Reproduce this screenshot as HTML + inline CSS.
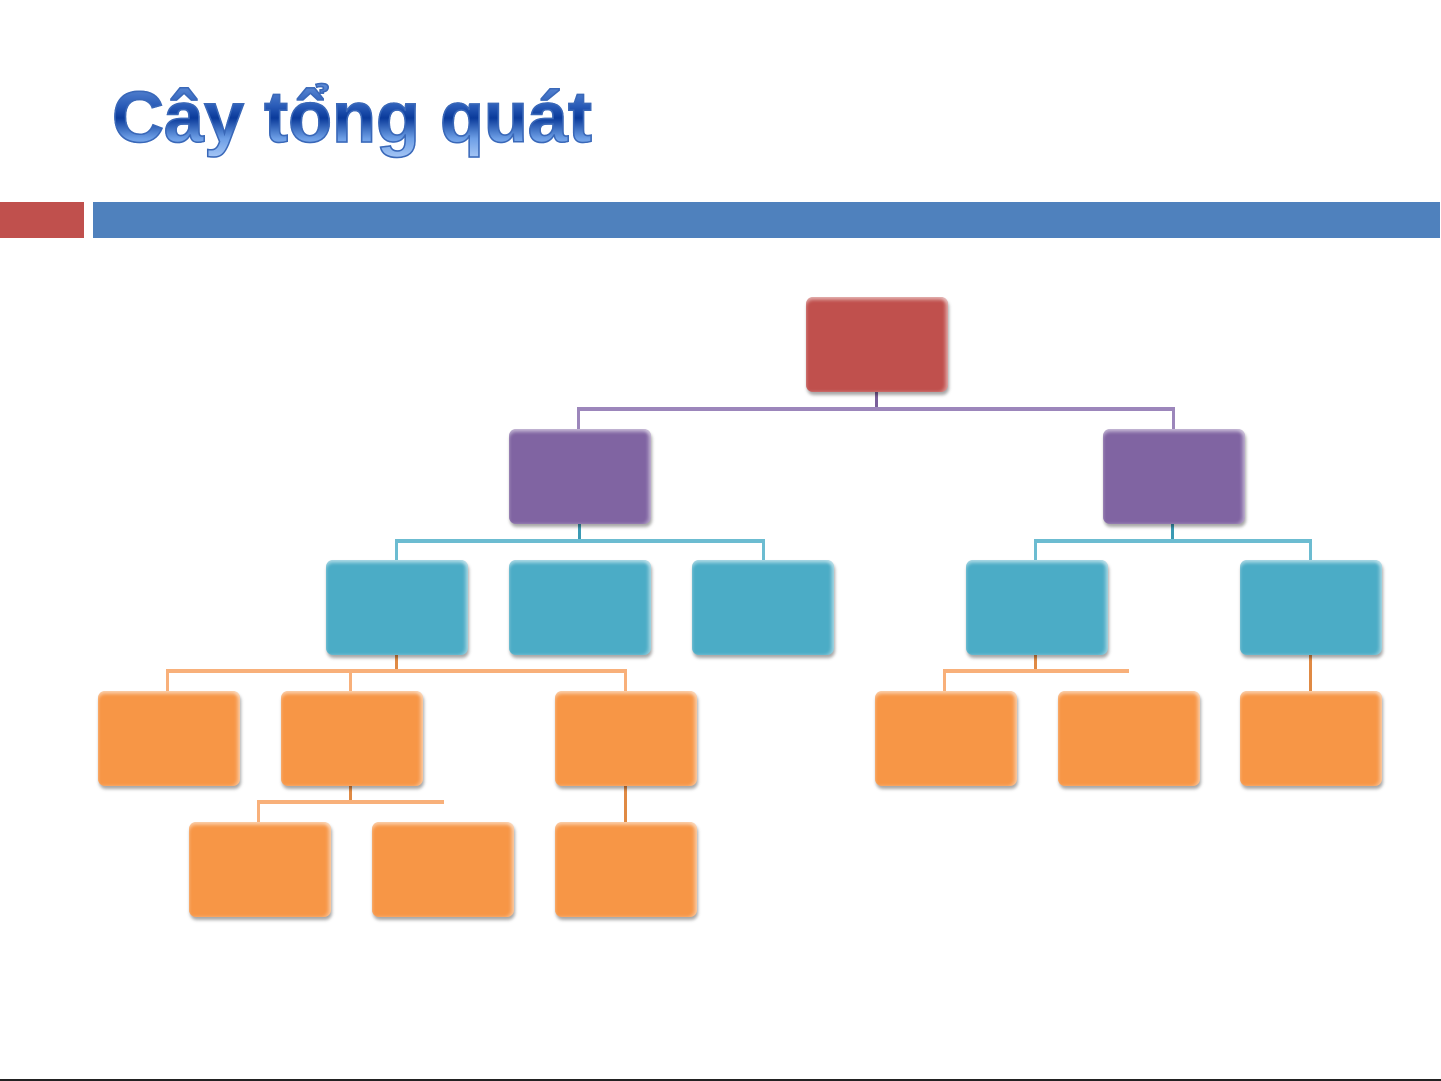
<!DOCTYPE html>
<html><head><meta charset="utf-8"><style>
html,body{margin:0;padding:0;background:#fff;width:1441px;height:1081px;overflow:hidden;position:relative;font-family:"Liberation Sans",sans-serif}
.t{position:absolute;left:112px;top:77px;font-size:72px;font-weight:bold;letter-spacing:0px;
background:linear-gradient(#6f9be0 0%,#2a5cb8 35%,#0a3a9a 50%,#6d9fe6 75%,#aac9f7 100%);
-webkit-background-clip:text;background-clip:text;color:transparent;-webkit-text-stroke:1.5px #3a68b8;white-space:nowrap}
.bar{position:absolute;top:202px;height:36px}
.b{position:absolute;width:142px;height:95px;border-radius:7px;box-shadow:1px 3px 3px rgba(0,0,0,.35), inset 0 3px 3px rgba(255,255,255,.45), inset -3px 0 3px rgba(255,255,255,.35)}
.r{background:#c0504d}.p{background:#8064a2}.c{background:#4bacc6}.o{background:#f79646}
.l{position:absolute}
</style></head><body>
<div class="t">Cây tổng quát</div>
<div class="bar" style="left:0;width:84px;background:#c0504d"></div>
<div class="bar" style="left:93px;width:1347px;background:#4f81bd"></div>
<div class="l" style="left:875px;top:390px;width:3px;height:20px;background:#7a5f9a"></div>
<div class="l" style="left:577px;top:407px;width:598px;height:4px;background:#9c86bb"></div>
<div class="l" style="left:577px;top:407px;width:3px;height:24px;background:#9c86bb"></div>
<div class="l" style="left:1172px;top:407px;width:3px;height:24px;background:#9c86bb"></div>

<div class="l" style="left:578px;top:522px;width:3px;height:20px;background:#3a9ab4"></div>
<div class="l" style="left:395px;top:539px;width:370px;height:4px;background:#6cbcd1"></div>
<div class="l" style="left:395px;top:539px;width:3px;height:23px;background:#6cbcd1"></div>
<div class="l" style="left:762px;top:539px;width:3px;height:23px;background:#6cbcd1"></div>
<div class="l" style="left:1171px;top:522px;width:3px;height:20px;background:#3a9ab4"></div>
<div class="l" style="left:1034px;top:539px;width:278px;height:4px;background:#6cbcd1"></div>
<div class="l" style="left:1034px;top:539px;width:3px;height:23px;background:#6cbcd1"></div>
<div class="l" style="left:1309px;top:539px;width:3px;height:23px;background:#6cbcd1"></div>

<div class="l" style="left:395px;top:653px;width:3px;height:20px;background:#e08a44"></div>
<div class="l" style="left:166px;top:669px;width:461px;height:4px;background:#f8b07a"></div>
<div class="l" style="left:166px;top:669px;width:3px;height:24px;background:#f8b07a"></div>
<div class="l" style="left:349px;top:669px;width:3px;height:24px;background:#f8b07a"></div>
<div class="l" style="left:624px;top:669px;width:3px;height:24px;background:#f8b07a"></div>
<div class="l" style="left:349px;top:785px;width:3px;height:19px;background:#e08a44"></div>
<div class="l" style="left:257px;top:800px;width:187px;height:4px;background:#f8b07a"></div>
<div class="l" style="left:257px;top:800px;width:3px;height:24px;background:#f8b07a"></div>
<div class="l" style="left:624px;top:785px;width:3px;height:39px;background:#e08a44"></div>
<div class="l" style="left:1034px;top:653px;width:3px;height:20px;background:#e08a44"></div>
<div class="l" style="left:943px;top:669px;width:186px;height:4px;background:#f8b07a"></div>
<div class="l" style="left:943px;top:669px;width:3px;height:24px;background:#f8b07a"></div>
<div class="l" style="left:1309px;top:653px;width:3px;height:40px;background:#e08a44"></div>
<div class="b r" style="left:806px;top:297px"></div>
<div class="b p" style="left:509px;top:429px"></div>
<div class="b p" style="left:1103px;top:429px"></div>
<div class="b c" style="left:326px;top:560px"></div>
<div class="b c" style="left:509px;top:560px"></div>
<div class="b c" style="left:692px;top:560px"></div>
<div class="b c" style="left:966px;top:560px"></div>
<div class="b c" style="left:1240px;top:560px"></div>
<div class="b o" style="left:98px;top:691px"></div>
<div class="b o" style="left:281px;top:691px"></div>
<div class="b o" style="left:555px;top:691px"></div>
<div class="b o" style="left:875px;top:691px"></div>
<div class="b o" style="left:1058px;top:691px"></div>
<div class="b o" style="left:1240px;top:691px"></div>
<div class="b o" style="left:189px;top:822px"></div>
<div class="b o" style="left:372px;top:822px"></div>
<div class="b o" style="left:555px;top:822px"></div>
<div class="l" style="left:0;top:1079px;width:1441px;height:2px;background:#222"></div>
</body></html>
